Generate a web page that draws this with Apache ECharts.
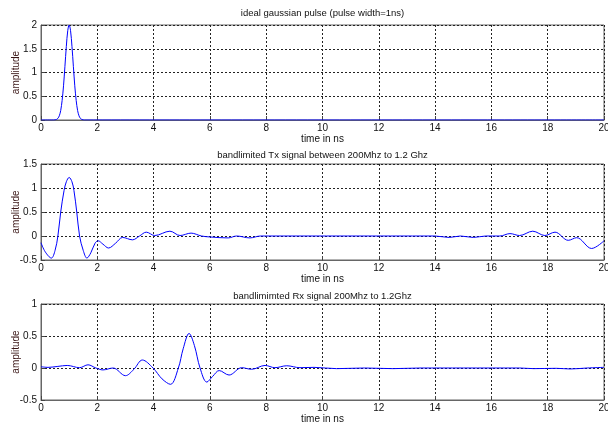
<!DOCTYPE html>
<html>
<head>
<meta charset="utf-8">
<script src="https://cdn.jsdelivr.net/npm/echarts@6/dist/echarts.min.js"></script>
<style>
  html, body { margin: 0; padding: 0; background: #fff; }
  #chart { width: 608px; height: 425px; }
</style>
</head>
<body>
<div id="chart"></div>
<script>
// Panel titles and axis labels
var titles = [
  'ideal gaussian pulse (pulse width=1ns)',
  'bandlimited Tx signal between 200Mhz to 1.2 Ghz',
  'bandlimimted Rx signal 200Mhz to 1.2Ghz'
];
var xLabel = 'time in ns';
var yLabel = 'amplitude';

// Y-axis ranges for each panel
var yMins = [0, -0.5, -0.5];
var yMaxs = [2, 1.5, 1];

// Ideal gaussian pulse: [time ns, amplitude]
var pulse = [
  [0, 0], [0.45, 0], [0.5, 0.003], [0.55, 0.011], [0.6, 0.034], [0.65, 0.088],
  [0.7, 0.2], [0.75, 0.41], [0.8, 0.72], [0.85, 1.13], [0.9, 1.55], [0.95, 1.88],
  [1.0, 2.0], [1.05, 1.88], [1.1, 1.55], [1.15, 1.13], [1.2, 0.72], [1.25, 0.41],
  [1.3, 0.2], [1.35, 0.088], [1.4, 0.034], [1.45, 0.011], [1.5, 0.003], [1.55, 0],
  [20, 0]
];

// Band-limited transmitted signal
var txSignal = [
  [0, -0.14], [0.15, -0.33], [0.37, -0.46], [0.5, -0.3], [0.6, 0.0], [0.7, 0.5],
  [0.82, 0.95], [0.9, 1.13], [1.0, 1.22], [1.1, 1.13], [1.17, 0.95], [1.27, 0.5],
  [1.37, 0.0], [1.5, -0.3], [1.63, -0.46], [1.77, -0.35], [1.92, -0.15], [2.03, -0.1],
  [2.2, -0.17], [2.4, -0.25], [2.65, -0.15], [2.9, -0.03], [3.25, -0.08], [3.5, 0.0],
  [3.74, 0.08], [4.04, 0.01], [4.58, 0.1], [4.94, 0.01], [5.33, 0.06], [5.7, 0.0],
  [6.0, -0.02], [6.65, -0.04], [6.95, 0.0], [7.42, -0.04], [7.8, 0.0], [14.0, 0.0],
  [14.5, -0.03], [14.9, 0.0], [15.36, -0.03], [15.8, 0.0], [16.3, 0.0], [16.66, 0.05],
  [17.0, 0.01], [17.47, 0.1], [17.9, 0.01], [18.26, 0.08], [18.73, -0.09],
  [19.03, -0.035], [19.56, -0.26], [20, -0.1]
];

// Band-limited received signal
var rxSignal = [
  [0, 0.02], [0.25, 0.01], [0.6, 0.025], [0.93, 0.04], [1.37, 0.005], [1.67, 0.05],
  [1.95, 0.0], [2.2, -0.03], [2.56, 0.0], [3.0, -0.12], [3.3, -0.02], [3.6, 0.125],
  [3.98, 0.0], [4.3, -0.17], [4.6, -0.255], [4.88, 0.0], [5.05, 0.3], [5.26, 0.54],
  [5.45, 0.35], [5.65, 0.0], [5.89, -0.22], [6.1, -0.13], [6.33, -0.04], [6.68, -0.11],
  [7.13, 0.005], [7.48, -0.02], [7.96, 0.04], [8.31, 0.005], [8.73, 0.035], [9.2, 0.005],
  [9.7, 0.01], [10.5, -0.01], [11.5, 0.0], [12.5, -0.01], [13.5, 0.0], [15, 0.0],
  [17, 0.0], [17.5, -0.01], [18.3, -0.005], [18.8, -0.015], [19.4, 0.0], [20, 0.01]
];

var seriesData = [pulse, txSignal, rxSignal];

var FONT = '"Liberation Sans", Arial, sans-serif';
var gridTops = [25, 164, 304];
var gridHeights = [95, 96, 96];
var titleCenters = [14, 156, 297];
var plotLeft = 41, plotWidth = 563;

var grids = [], xAxes = [], yAxes = [], series = [], titleList = [];
for (var i = 0; i < 3; i++) {
  grids.push({
    left: plotLeft, top: gridTops[i], width: plotWidth, height: gridHeights[i],
    outerBoundsMode: 'none', containLabel: false,
    show: true, borderColor: '#666', borderWidth: 1, backgroundColor: '#fff'
  });
  titleList.push({
    text: titles[i], left: plotLeft + plotWidth / 2, top: titleCenters[i] - 6,
    textAlign: 'center', padding: 0,
    textStyle: { fontFamily: FONT, fontSize: 9.5, fontWeight: 'normal', color: '#111' }
  });
  xAxes.push({
    gridIndex: i, type: 'value', min: 0, max: 20, interval: 2,
    name: xLabel, nameLocation: 'middle', nameGap: 14, nameMoveOverlap: false,
    nameTextStyle: { fontFamily: FONT, fontSize: 10, color: '#111' },
    axisLine: { show: true, onZero: false, lineStyle: { color: '#666', width: 1 } },
    axisTick: { show: true, inside: true, length: 4, lineStyle: { color: '#444' } },
    axisLabel: { fontFamily: FONT, fontSize: 10, color: '#111', margin: 3 },
    splitLine: { show: true, lineStyle: { color: '#222', width: 1, type: [2, 2] } }
  });
  yAxes.push({
    gridIndex: i, type: 'value', min: yMins[i], max: yMaxs[i], interval: 0.5,
    name: yLabel, nameLocation: 'middle', nameGap: 20, nameRotate: 90, nameMoveOverlap: false,
    nameTextStyle: { fontFamily: FONT, fontSize: 10, color: '#3a1616' },
    axisLine: { show: true, lineStyle: { color: '#666', width: 1 } },
    axisTick: { show: true, inside: true, length: 4, lineStyle: { color: '#444' } },
    axisLabel: { fontFamily: FONT, fontSize: 10, color: '#111', margin: 4 },
    splitLine: { show: true, lineStyle: { color: '#222', width: 1, type: [2, 2] } }
  });
  series.push({
    type: 'line', xAxisIndex: i, yAxisIndex: i, data: seriesData[i],
    showSymbol: false, smooth: 0.35, silent: true, animation: false,
    lineStyle: { color: '#0000ff', width: 1 }
  });
}

var chart = echarts.init(document.getElementById('chart'), null, { renderer: 'canvas' });
chart.setOption({
  backgroundColor: '#fff',
  animation: false,
  title: titleList,
  grid: grids,
  xAxis: xAxes,
  yAxis: yAxes,
  series: series
});
</script>
</body>
</html>
